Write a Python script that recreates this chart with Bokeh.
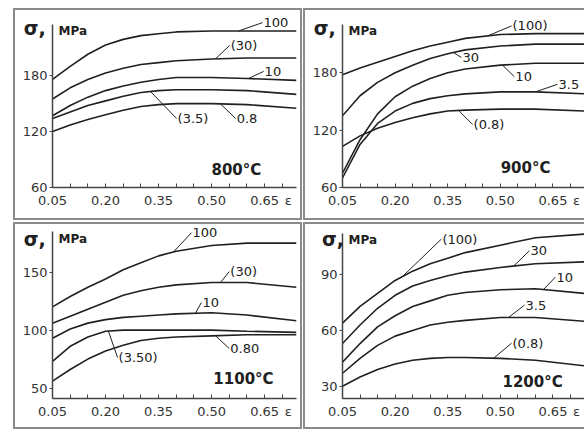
import numpy as np
from bokeh.plotting import figure
from bokeh.layouts import row, column
from bokeh.models import FixedTicker, Label, Range1d, PrintfTickFormatter
from bokeh.embed import file_html
from bokeh.resources import INLINE

# true strain at which the flow stress was sampled
eps = [0.05, 0.10, 0.15, 0.20, 0.25, 0.30, 0.35, 0.40, 0.50, 0.60, 0.74]

# flow stress (MPa) at 800 C for strain rates 100, 30, 10, 3.5, 0.8 1/s
s800_100 = [176, 190, 203, 213, 219, 223, 225, 227, 228, 228, 228]
s800_30 = [155, 167, 176, 183, 188, 192, 194, 196, 198, 199, 199]
s800_10 = [137, 148, 157, 164, 169, 173, 176, 178, 178, 177, 175]
s800_3_5 = [134, 141, 148, 153, 158, 162, 164, 165, 165, 164, 160]
s800_0_8 = [120, 127, 133, 138, 143, 147, 149, 150, 150, 149, 145]

# 900 C
s900_100 = [178, 185, 191, 197, 203, 208, 212, 216, 220, 221, 221]
s900_30 = [135, 156, 170, 180, 188, 195, 200, 204, 208, 210, 210]
s900_10 = [75, 110, 137, 155, 166, 174, 180, 184, 188, 190, 190]
s900_3_5 = [70, 105, 127, 140, 148, 153, 156, 158, 160, 160, 158]
s900_0_8 = [103, 114, 122, 128, 133, 137, 140, 141, 142, 142, 140]

# 1100 C
s1100_100 = [120, 129, 137, 144, 152, 158, 164, 168, 173, 175, 175]
s1100_30 = [106, 112, 118, 124, 130, 134, 137, 139, 141, 141, 137]
s1100_10 = [93, 101, 106, 109, 111, 112, 113, 114, 115, 113, 108]
s1100_3_5 = [73, 86, 94, 99, 100, 100, 100, 100, 100, 99, 98]
s1100_0_8 = [56, 66, 75, 82, 87, 91, 93, 94, 95, 96, 96]

# 1200 C
s1200_100 = [64, 73, 80, 87, 92, 96, 99, 102, 106, 110, 112]
s1200_30 = [53, 63, 72, 79, 84, 87, 89.5, 91.5, 94, 96, 97]
s1200_10 = [43, 53, 62, 68, 73, 76, 79, 80.5, 82, 82.5, 80]
s1200_3_5 = [37, 45, 52, 57, 60, 63, 64.5, 65.5, 67, 67, 65]
s1200_0_8 = [30, 35, 39, 42, 44, 45, 45.5, 45.5, 45, 44, 41]

# curve labels, in the same order as the curves
names_800 = ["100", "(30)", "10", "(3.5)", "0.8"]
names_900 = ["(100)", "30", "10", "3.5", "(0.8)"]
names_1100 = ["100", "(30)", "10", "(3.50)", "0.80"]
names_1200 = ["(100)", "30", "10", "3.5", "(0.8)"]

titles = ["800°C", "900°C", "1100°C", "1200°C"]

# axis ticks: labelled strains, tick marks every 0.05, strain symbol at the end
x_major = [0.05, 0.20, 0.35, 0.50, 0.65]
x_marks = [0.05, 0.10, 0.15, 0.20, 0.25, 0.30, 0.35, 0.40, 0.45,
           0.50, 0.55, 0.60, 0.65, 0.70]
x_symbol_at = 0.717
y_ticks_800 = [60, 120, 180]
y_ticks_900 = [60, 120, 180]
y_ticks_1100 = [50, 100, 150]
y_ticks_1200 = [30, 60, 90]

INK = "#202020"
AXIS = "#444444"
EDGE = "#8a8a8a"
FONT = "DejaVu Sans"


def edge_css(right):
    sh = [f"inset 2px 0 0 0 {EDGE}", f"inset 0 2px 0 0 {EDGE}", f"inset 0 -2px 0 0 {EDGE}"]
    if right:
        sh.append(f"inset -2px 0 0 0 {EDGE}")
    return {"box-shadow": ", ".join(sh), "background-color": "white"}


def panel(curves, names, title, y_axis, y_top, y_ticks, attach, ends, title_pos,
          size, borders, right):
    w, h = size
    bl, br, bt, bb = borders
    p = figure(width=w, height=h, x_range=Range1d(0.05, 0.74),
               y_range=Range1d(y_axis[0], y_top),
               output_backend="svg", toolbar_location=None,
               min_border_left=bl, min_border_right=br,
               min_border_top=bt, min_border_bottom=bb,
               border_fill_alpha=0, background_fill_alpha=0,
               outline_line_color=None, styles=edge_css(right))
    p.grid.visible = False

    # x axis: marks drawn as minor ticks, labels (and the symbol) as majors
    ax = p.xaxis[0]
    ax.ticker = FixedTicker(ticks=x_major + [x_symbol_at], minor_ticks=x_marks)
    ax.formatter = PrintfTickFormatter(format="%.2f")
    ax.major_label_overrides = {x_symbol_at: "ε"}
    ax.major_tick_line_color = None
    ax.major_tick_in, ax.major_tick_out = 0, 0
    ax.minor_tick_in, ax.minor_tick_out = 4, 0
    ax.minor_tick_line_color = AXIS
    ax.major_label_standoff = 5

    ay = p.yaxis[0]
    ay.bounds = y_axis
    ay.ticker = FixedTicker(ticks=y_ticks, minor_ticks=[])
    ay.major_tick_in, ay.major_tick_out = 0, 3
    ay.major_tick_line_color = AXIS
    ay.minor_tick_line_color = None
    ay.major_label_standoff = 2
    ay.axis_label = "\nσ,"
    ay.axis_label_orientation = "horizontal"
    ay.axis_label_align = "end"
    ay.axis_label_standoff = -26
    ay.axis_label_text_font_size = "19px"
    ay.axis_label_text_font_style = "bold"

    for a in (ax, ay):
        a.axis_line_color = AXIS
        a.axis_line_width = 1.5
        a.major_label_text_font = FONT
        a.major_label_text_font_size = "13px"
        a.major_label_text_color = "#333333"
        a.axis_label_text_font = FONT
        a.axis_label_text_color = INK

    for s in curves:
        p.line(eps, s, line_color=INK, line_width=1.6)

    # leader lines from each curve to its label
    x0 = list(attach)
    y0 = [float(np.interp(a, eps, s)) for a, s in zip(attach, curves)]
    x1 = [e[0] for e in ends]
    y1 = [e[1] for e in ends]
    p.segment(x0=x0, y0=y0, x1=x1, y1=y1, line_color=INK, line_width=1)
    for name, (ex, ey) in zip(names, ends):
        p.add_layout(Label(x=ex, y=ey, text=name, x_offset=1,
                           text_align="left", text_baseline="middle",
                           text_font=FONT, text_font_size="13px", text_color=INK))

    p.add_layout(Label(x=title_pos[0], y=title_pos[1], text=title,
                       text_align="center", text_baseline="middle",
                       text_font=FONT, text_font_style="bold",
                       text_font_size="15px", text_color=INK))

    p.add_layout(Label(x=0.05, y=y_axis[1], text="MPa", x_offset=6, y_offset=-7,
                       text_align="left", text_baseline="middle",
                       text_font=FONT, text_font_style="bold",
                       text_font_size="12px", text_color=INK))
    return p


f1 = panel([s800_100, s800_30, s800_10, s800_3_5, s800_0_8], names_800, titles[0],
           (60, 235), 245.7, y_ticks_800,
           attach=[0.576, 0.511, 0.604, 0.327, 0.525],
           ends=[(0.644, 237), (0.551, 212.5), (0.647, 184.6), (0.401, 134), (0.568, 134)],
           title_pos=(0.570, 79),
           size=(289, 212), borders=(39, 6, 6, 33), right=True)

f2 = panel([s900_100, s900_30, s900_10, s900_3_5, s900_0_8], names_900, titles[1],
           (60, 231), 241, y_ticks_900,
           attach=[0.463, 0.366, 0.506, 0.600, 0.381],
           ends=[(0.532, 229), (0.389, 196), (0.540, 176), (0.663, 168), (0.421, 126)],
           title_pos=(0.572, 80),
           size=(281, 212), borders=(39, 0, 4, 27), right=False)

f3 = panel([s1100_100, s1100_30, s1100_10, s1100_3_5, s1100_0_8], names_1100, titles[2],
           (41, 185), 190.2, y_ticks_1100,
           attach=[0.392, 0.525, 0.454, 0.208, 0.511],
           ends=[(0.443, 184), (0.550, 150.5), (0.471, 123.8), (0.234, 76.3), (0.550, 84.1)],
           title_pos=(0.590, 58),
           size=(289, 207), borders=(39, 6, 3, 31), right=True)

f4 = panel([s1200_100, s1200_30, s1200_10, s1200_3_5, s1200_0_8], names_1200, titles[3],
           (23.4, 112.4), 116.6, y_ticks_1200,
           attach=[0.221, 0.538, 0.623, 0.523, 0.481],
           ends=[(0.332, 109.3), (0.583, 103), (0.657, 88.8), (0.569, 73.7), (0.532, 53.2)],
           title_pos=(0.592, 32.3),
           size=(281, 207), borders=(39, 0, 3, 26), right=False)

layout = column(row(f1, f2, spacing=1), row(f3, f4, spacing=1),
                spacing=2, margin=(8, 0, 0, 13))

open("out.html", "w").write(file_html(layout, INLINE))
